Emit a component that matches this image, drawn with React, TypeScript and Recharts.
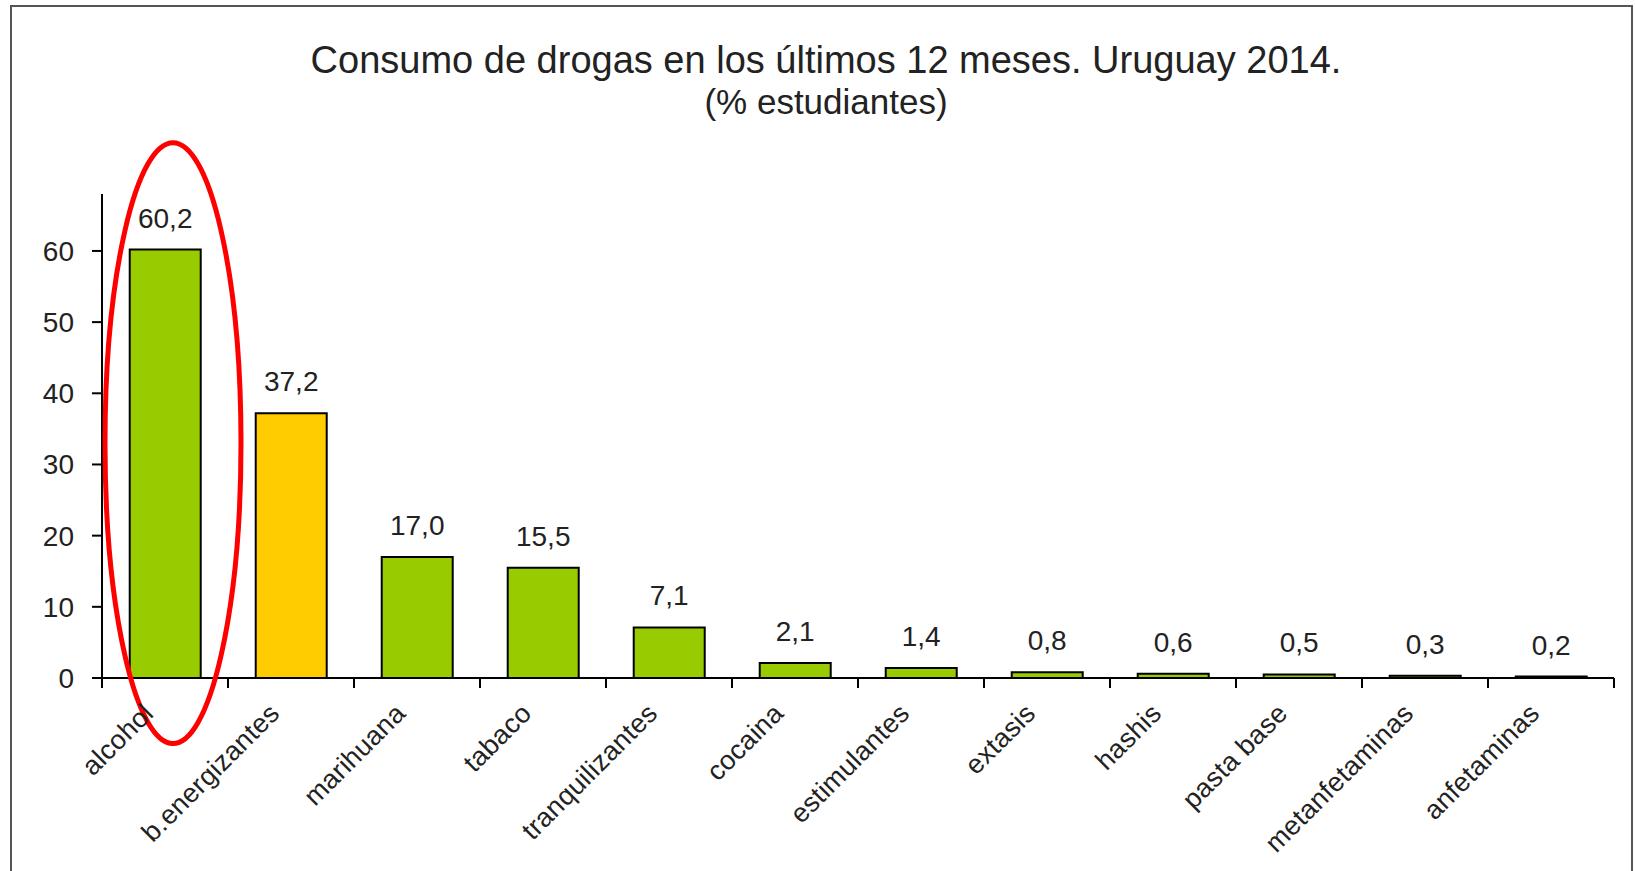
import React from "react"
import { BarChart, Bar, XAxis, YAxis, Cell, LabelList, ReferenceArea } from "recharts"

// chart data
const categories = [
  "alcohol",
  "b.energizantes",
  "marihuana",
  "tabaco",
  "tranquilizantes",
  "cocaina",
  "estimulantes",
  "extasis",
  "hashis",
  "pasta base",
  "metanfetaminas",
  "anfetaminas",
]
const values = [60.2, 37.2, 17.0, 15.5, 7.1, 2.1, 1.4, 0.8, 0.6, 0.5, 0.3, 0.2]
const yTicks = [0, 10, 20, 30, 40, 50, 60]
const yDomain = [0, 68]

const highlighted = "b.energizantes"
// the red ring drawn around one category (value range it spans)
const circled = "alcohol"
const circleRange = [-9.2, 75.2]

const titleText = "Consumo de drogas en los últimos 12 meses. Uruguay 2014."
const subtitleText = "(% estudiantes)"

const data = categories.map((name, i) => ({ name, value: values[i] }))

const FONT = '"Liberation Sans", Arial, sans-serif'
const TEXT = "#222"
const GREEN = "#99CC00"
const YELLOW = "#FFCC00"

const fmt = (v: number) => v.toFixed(1).replace(".", ",")

function CategoryTick(props: any) {
  const { x, y, payload } = props
  const half = payload.offset ?? props.width / categories.length / 2
  const isLast = payload.value === categories[categories.length - 1]
  const tx = x - 10
  const ty = y + 37
  return (
    <g>
      <line x1={x - half} x2={x - half} y1={y} y2={y + 10} stroke="#000" strokeWidth={2} />
      {isLast && <line x1={x + half} x2={x + half} y1={y} y2={y + 10} stroke="#000" strokeWidth={2} />}
      <text
        x={tx}
        y={ty}
        transform={`rotate(-45, ${tx}, ${ty})`}
        textAnchor="end"
        fontSize={27}
        letterSpacing={0.3}
        fontFamily={FONT}
        fill={TEXT}
      >
        {payload.value}
      </text>
    </g>
  )
}

function ValueLabel(props: any) {
  const { x, y, width, value } = props
  return (
    <text
      x={x + width / 2}
      y={y - 22}
      textAnchor="middle"
      fontSize={28}
      fontFamily={FONT}
      fill={TEXT}
    >
      {fmt(value)}
    </text>
  )
}

function Ring(props: any) {
  const { x, y, width, height } = props
  return (
    <ellipse
      cx={x + width / 2 + 8}
      cy={y + height / 2}
      rx={width / 2 + 5}
      ry={height / 2}
      fill="none"
      stroke="#FF0000"
      strokeWidth={5}
    />
  )
}

export default function App() {
  return (
    <div
      style={{
        position: "absolute",
        left: 0,
        top: 0,
        width: 1635,
        height: 871,
        overflow: "hidden",
        background: "#fff",
        fontFamily: FONT,
      }}
    >
      <div
        style={{
          position: "absolute",
          left: 10,
          top: 5,
          width: 1623,
          height: 920,
          border: "2px solid #555",
          boxSizing: "border-box",
        }}
      />
      <div style={{ position: "absolute", left: 0, top: 0 }}>
        <BarChart
          width={1635}
          height={871}
          data={data}
          margin={{ top: 194, right: 21, bottom: 13, left: 12 }}
          barCategoryGap="22%"
        >
          <XAxis
            dataKey="name"
            interval={0}
            tick={<CategoryTick />}
            tickLine={false}
            tickSize={0}
            tickMargin={0}
            height={180}
            axisLine={{ stroke: "#000", strokeWidth: 2 }}
          />
          <YAxis
            type="number"
            domain={yDomain}
            ticks={yTicks}
            interval={0}
            width={90}
            tickSize={10}
            tickMargin={18}
            tick={{ fontSize: 28, fill: TEXT, fontFamily: FONT }}
            tickLine={{ stroke: "#000", strokeWidth: 2 }}
            axisLine={{ stroke: "#000", strokeWidth: 2 }}
          />
          <Bar dataKey="value" stroke="#000" strokeWidth={2} isAnimationActive={false}>
            {data.map((d) => (
              <Cell key={d.name} fill={d.name === highlighted ? YELLOW : GREEN} />
            ))}
            <LabelList dataKey="value" content={<ValueLabel />} />
          </Bar>
          <ReferenceArea
            x1={circled}
            x2={circled}
            y1={circleRange[0]}
            y2={circleRange[1]}
            ifOverflow="visible"
            zIndex={1500}
            shape={<Ring />}
          />
        </BarChart>
      </div>
      <div
        style={{
          position: "absolute",
          left: 826,
          top: 41,
          transform: "translateX(-50%)",
          whiteSpace: "nowrap",
          fontSize: 38,
          lineHeight: 1,
          color: TEXT,
        }}
      >
        {titleText}
      </div>
      <div
        style={{
          position: "absolute",
          left: 826,
          top: 84,
          transform: "translateX(-50%)",
          whiteSpace: "nowrap",
          fontSize: 35,
          lineHeight: 1,
          color: TEXT,
        }}
      >
        {subtitleText}
      </div>
    </div>
  )
}
